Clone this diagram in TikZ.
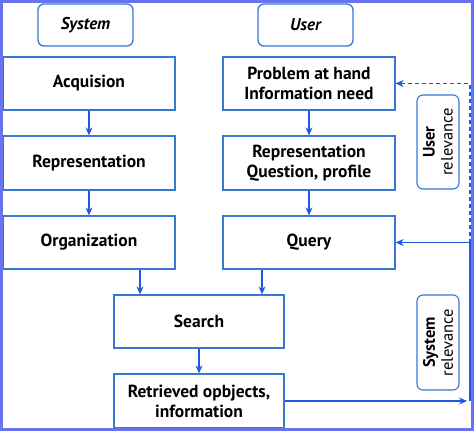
\documentclass[tikz,border=0pt]{standalone}
\usepackage{fontspec}
\setmainfont{PT Sans}
\usetikzlibrary{arrows.meta,calc}
\definecolor{boxblue}{RGB}{55,120,210}
\definecolor{arrblue}{RGB}{30,90,225}
\definecolor{framec}{RGB}{105,115,240}
\begin{document}
\begin{tikzpicture}[x=1pt,y=-1pt,
  box/.style={draw=boxblue,line width=1.3pt,fill=white,font=\fontsize{17.5}{20}\selectfont\bfseries,align=center,inner sep=0pt},
  hdr/.style={box,rounded corners=6pt,font=\fontsize{17}{20}\selectfont\bfseries\itshape},
  rel/.style={draw=boxblue,line width=1.1pt,rounded corners=6pt,inner sep=0pt,align=center},
  relt/.style={rotate=90,align=center,font=\fontsize{16.5}{18}\selectfont},
  arr/.style={draw=arrblue,line width=1.1pt,-{Stealth[length=8pt,width=7pt]}},
  ln/.style={draw=arrblue,line width=1.1pt}]
\useasboundingbox (0,0) rectangle (474,431);
\fill[white] (0,0) rectangle (474,431);
\node[hdr,minimum width=95pt,minimum height=42pt] (sys) at (85.5,25) {System};
\node[hdr,minimum width=95pt,minimum height=42pt] (usr) at (305.5,25) {User};
\node[box,minimum width=172pt,minimum height=53pt] (acq) at (89,83.5) {Acquision};
\node[box,minimum width=172pt,minimum height=53pt] (prob) at (309,83.5) {Problem at hand\\Information need};
\node[box,minimum width=172pt,minimum height=54pt] (rep) at (89,163) {Representation};
\node[box,minimum width=172pt,minimum height=54pt] (repq) at (309,163) {Representation\\Question, profile};
\node[box,minimum width=172pt,minimum height=53pt] (org) at (89,242.5) {Organization};
\node[box,minimum width=172pt,minimum height=53pt] (query) at (309,242.5) {Query};
\node[box,minimum width=170pt,minimum height=53pt] (search) at (199,321.5) {Search};
\node[box,minimum width=170pt,minimum height=54pt] (retr) at (199,401) {Retrieved opbjects,\\information};
\node[rel,minimum width=42pt,minimum height=94pt] (urel) at (438,142) {};
\node[relt] (urelt) at (urel.center) {\textbf{User}\\relevance};
\node[rel,minimum width=42pt,minimum height=95pt] (srel) at (438,342.5) {};
\node[relt] (srelt) at (srel.center) {\textbf{System}\\relevance};
\coordinate (xa) at (140,0);
\coordinate (xb) at (262,0);
\coordinate (rb) at (470,401);
\coordinate (rq) at (470,242.5);
\coordinate (rp) at (470,83.5);
\draw[arr] (acq) -- (rep);
\draw[arr] (prob) -- (repq);
\draw[arr] (rep) -- (org);
\draw[arr] (repq) -- (query);
\draw[arr] (org.south -| xa) -- (search.north -| xa);
\draw[arr] (query.south -| xb) -- (search.north -| xb);
\draw[arr] (search) -- (retr);
\draw[arr,shorten >=3pt] (retr.east) -- (rb);
\draw[ln] (rb) -- (rq);
\draw[arr] (rq) -- (query.east);
\draw[arr,dashed,dash pattern=on 4pt off 3pt] (rq) -- (rp) -- (prob.east);
\draw[framec,line width=3pt] (1.5,1.5) rectangle (472.5,429.5);
\end{tikzpicture}
\end{document}
